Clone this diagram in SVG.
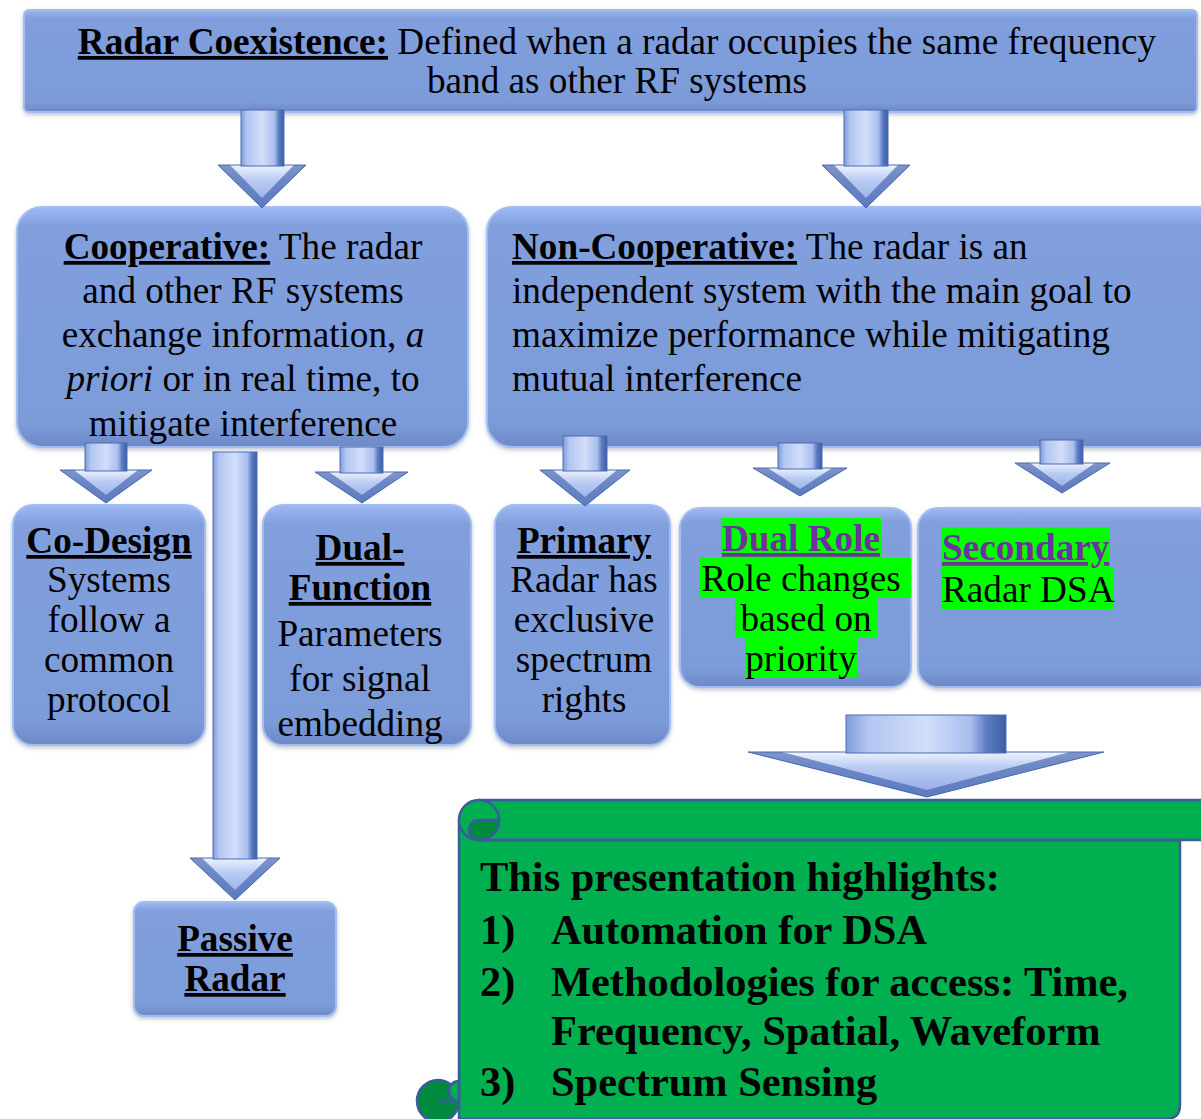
<svg xmlns="http://www.w3.org/2000/svg" width="1201" height="1119" viewBox="0 0 1201 1119">
<defs>
<linearGradient id="boxG" x1="0" y1="0" x2="0" y2="1">
<stop offset="0" stop-color="#9DB9F2"/>
<stop offset="0.08" stop-color="#819FDD"/>
<stop offset="0.9" stop-color="#7C9BD9"/>
<stop offset="1" stop-color="#6D89C6"/>
</linearGradient>
<linearGradient id="shG" x1="0" y1="0" x2="1" y2="0">
<stop offset="0" stop-color="#7F9BDA"/>
<stop offset="0.14" stop-color="#B3C6F2"/>
<stop offset="0.5" stop-color="#D2DEFA"/>
<stop offset="0.78" stop-color="#A9BEEE"/>
<stop offset="0.88" stop-color="#5B7BC2"/>
<stop offset="1" stop-color="#3D5DA5"/>
</linearGradient>
<linearGradient id="hdG" x1="0" y1="0" x2="0" y2="1">
<stop offset="0" stop-color="#EEF3FE"/>
<stop offset="0.35" stop-color="#B9CBF3"/>
<stop offset="1" stop-color="#8FA8E2"/>
</linearGradient>
<filter id="sh" x="-10%" y="-10%" width="120%" height="125%">
<feDropShadow dx="0" dy="2" stdDeviation="2" flood-color="#7A8AAA" flood-opacity="0.5"/>
</filter>
</defs>
<style>
.box{fill:url(#boxG);stroke:#A3BDF0;stroke-width:2;filter:url(#sh)}
.hd{fill:url(#hdG);stroke:#4D6CB2;stroke-width:1;stroke-linejoin:round}
.bv{fill:#4263AC;fill-opacity:0.65;fill-rule:evenodd}
.sf{fill:url(#shG);stroke:#4D6CB2;stroke-width:1}
text{font-family:"Liberation Serif","Times New Roman",serif;fill:#000}
.t{font-size:37.2px}
.s{font-size:42.4px;font-weight:bold}
.b{font-weight:bold;text-decoration:underline}
.p{fill:#7030A0}
.hl{fill:#00FF00}
.scr{fill:#00B050;stroke:#3B5AA0;stroke-width:2.5;stroke-linejoin:round}
.dk{fill:#008A3E;stroke:#3B5AA0;stroke-width:2.5;stroke-linejoin:round}
</style>

<g id="node-coexistence">
<rect class="box" x="24" y="10" width="1173" height="102" rx="5"/>
<text class="t" x="617" y="54" text-anchor="middle"><tspan class="b">Radar Coexistence:</tspan> Defined when a radar occupies the same frequency</text>
<text class="t" x="617" y="93" text-anchor="middle">band as other RF systems</text>
</g>

<g id="node-cooperative">
<rect class="box" x="17" y="207" width="451" height="240" rx="25"/>
<text class="t" x="243" y="259" text-anchor="middle"><tspan class="b">Cooperative:</tspan> The radar</text>
<text class="t" x="243" y="303" text-anchor="middle">and other RF systems</text>
<text class="t" x="243" y="347" text-anchor="middle">exchange information, <tspan font-style="italic">a</tspan></text>
<text class="t" x="243" y="391" text-anchor="middle"><tspan font-style="italic">priori</tspan> or in real time, to</text>
<text class="t" x="243" y="436" text-anchor="middle">mitigate interference</text>
</g>

<g id="node-noncooperative">
<rect class="box" x="487" y="207" width="740" height="240" rx="25"/>
<text class="t" x="512" y="259"><tspan class="b">Non-Cooperative:</tspan> The radar is an</text>
<text class="t" x="512" y="303">independent system with the main goal to</text>
<text class="t" x="512" y="347">maximize performance while mitigating</text>
<text class="t" x="512" y="391">mutual interference</text>
</g>

<g id="node-codesign">
<rect class="box" x="13" y="505" width="192" height="240" rx="20"/>
<text class="t" x="109" y="553" text-anchor="middle" font-weight="bold" text-decoration="underline">Co-Design</text>
<text class="t" x="109" y="592" text-anchor="middle">Systems</text>
<text class="t" x="109" y="632" text-anchor="middle">follow a</text>
<text class="t" x="109" y="672" text-anchor="middle">common</text>
<text class="t" x="109" y="712" text-anchor="middle">protocol</text>
</g>

<g id="node-dualfunction">
<rect class="box" x="263" y="505" width="208" height="240" rx="20"/>
<text class="t" x="360" y="560" text-anchor="middle" font-weight="bold" text-decoration="underline">Dual-</text>
<text class="t" x="360" y="600" text-anchor="middle" font-weight="bold" text-decoration="underline">Function</text>
<text class="t" x="360" y="646" text-anchor="middle">Parameters</text>
<text class="t" x="360" y="691" text-anchor="middle">for signal</text>
<text class="t" x="360" y="736" text-anchor="middle">embedding</text>
</g>

<g id="node-primary">
<rect class="box" x="495" y="505" width="175" height="240" rx="20"/>
<text class="t" x="584" y="553" text-anchor="middle" font-weight="bold" text-decoration="underline">Primary</text>
<text class="t" x="584" y="592" text-anchor="middle">Radar has</text>
<text class="t" x="584" y="632" text-anchor="middle">exclusive</text>
<text class="t" x="584" y="672" text-anchor="middle">spectrum</text>
<text class="t" x="584" y="712" text-anchor="middle">rights</text>
</g>

<g id="node-dualrole">
<rect class="box" x="680" y="508" width="231" height="179" rx="20"/>
<rect class="hl" x="721" y="518" width="160" height="40"/>
<rect class="hl" x="700" y="558" width="211" height="40"/>
<rect class="hl" x="735" y="598" width="142" height="40"/>
<rect class="hl" x="745" y="638" width="112" height="40"/>
<text class="t p" x="801" y="551" text-anchor="middle" font-weight="bold" text-decoration="underline">Dual Role</text>
<text class="t" x="801" y="591" text-anchor="middle">Role changes</text>
<text class="t" x="806" y="631" text-anchor="middle">based on</text>
<text class="t" x="801" y="671" text-anchor="middle">priority</text>
</g>

<g id="node-secondary">
<rect class="box" x="918" y="508" width="300" height="179" rx="20"/>
<rect class="hl" x="941" y="527" width="169" height="40"/>
<rect class="hl" x="941" y="567" width="173" height="42"/>
<text class="t p" x="942" y="560" font-weight="bold" text-decoration="underline">Secondary</text>
<text class="t" x="942" y="602">Radar DSA</text>
</g>

<g id="node-passive">
<rect class="box" x="134" y="902" width="202" height="114" rx="10"/>
<text class="t" x="235" y="951" text-anchor="middle" font-weight="bold" text-decoration="underline">Passive</text>
<text class="t" x="235" y="991" text-anchor="middle" font-weight="bold" text-decoration="underline">Radar</text>
</g>

<g id="node-highlights">
<path class="scr" d="M459,820 L459,1119 L1166,1119 Q1180,1119 1180,1105 L1180,840 L479,840 Z"/>
<rect class="scr" x="479" y="800" width="740" height="40"/>
<circle class="scr" cx="479" cy="820" r="20"/>
<path class="dk" d="M479,820 L499,820 A20,20 0 0 1 479,840 A10,10 0 0 1 479,820 Z"/>
<path class="scr" d="M479,840 L1180,840" fill="none"/>
<circle class="dk" cx="438" cy="1101" r="21"/>
<path class="scr" d="M459,1081 A10,10 0 0 0 459,1101 Z"/>
<path d="M438,1101 L459,1101" stroke="#3B5AA0" stroke-width="2.5" fill="none"/>
<text class="s" x="480" y="891">This presentation highlights:</text>
<text class="s" x="480" y="944">1)</text>
<text class="s" x="551" y="944">Automation for DSA</text>
<text class="s" x="480" y="996">2)</text>
<text class="s" x="551" y="996">Methodologies for access: Time,</text>
<text class="s" x="551" y="1045">Frequency, Spatial, Waveform</text>
<text class="s" x="480" y="1096">3)</text>
<text class="s" x="551" y="1096">Spectrum Sensing</text>
</g>

<g id="connectors">
<g id="arrow-coex-coop">
<path class="hd" d="M218,165 L306,165 L262,208 Z"/>
<path class="bv" d="M218,165 L262,208 L306,165 Z M230,165 L262,198 L294,165 Z"/>
<rect class="sf" x="241" y="110" width="43" height="56"/>
</g>
<g id="arrow-coex-noncoop">
<path class="hd" d="M822,165 L910,165 L866,208 Z"/>
<path class="bv" d="M822,165 L866,208 L910,165 Z M834,165 L866,198 L898,165 Z"/>
<rect class="sf" x="844" y="110" width="44" height="56"/>
</g>
<g id="arrow-coop-codesign">
<path class="hd" d="M60,470 L152,470 L106,503 Z"/>
<path class="bv" d="M60,470 L106,503 L152,470 Z M74,470 L106,495 L138,470 Z"/>
<rect class="sf" x="85" y="443" width="42" height="28"/>
</g>
<g id="arrow-coop-dualfunction">
<path class="hd" d="M315,472 L408,472 L362,503 Z"/>
<path class="bv" d="M315,472 L362,503 L408,472 Z M329,472 L362,495 L394,472 Z"/>
<rect class="sf" x="340" y="447" width="43" height="26"/>
</g>
<g id="arrow-coop-passive">
<path class="hd" d="M190,858 L280,858 L235,900 Z"/>
<path class="bv" d="M190,858 L235,900 L280,858 Z M202,858 L235,890 L268,858 Z"/>
<rect class="sf" x="213" y="452" width="44" height="407"/>
</g>
<g id="arrow-noncoop-primary">
<path class="hd" d="M540,470 L630,470 L585,506 Z"/>
<path class="bv" d="M540,470 L585,506 L630,470 Z M553,470 L585,497 L617,470 Z"/>
<rect class="sf" x="563" y="436" width="44" height="35"/>
</g>
<g id="arrow-noncoop-dualrole">
<path class="hd" d="M753,468 L847,468 L800,496 Z"/>
<path class="bv" d="M753,468 L800,496 L847,468 Z M768,468 L800,489 L832,468 Z"/>
<rect class="sf" x="778" y="443" width="44" height="26"/>
</g>
<g id="arrow-noncoop-secondary">
<path class="hd" d="M1015,463 L1110,463 L1062,493 Z"/>
<path class="bv" d="M1015,463 L1062,493 L1110,463 Z M1030,463 L1062,486 L1095,463 Z"/>
<rect class="sf" x="1040" y="440" width="43" height="24"/>
</g>
<g id="arrow-secondary-highlights">
<path class="hd" d="M748,752 L1104,752 L927,797 Z"/>
<path class="bv" d="M748,752 L927,797 L1104,752 Z M782,752 L927,790 L1070,752 Z"/>
<rect class="sf" x="846" y="715" width="160" height="38"/>
</g>
</g>
</svg>
